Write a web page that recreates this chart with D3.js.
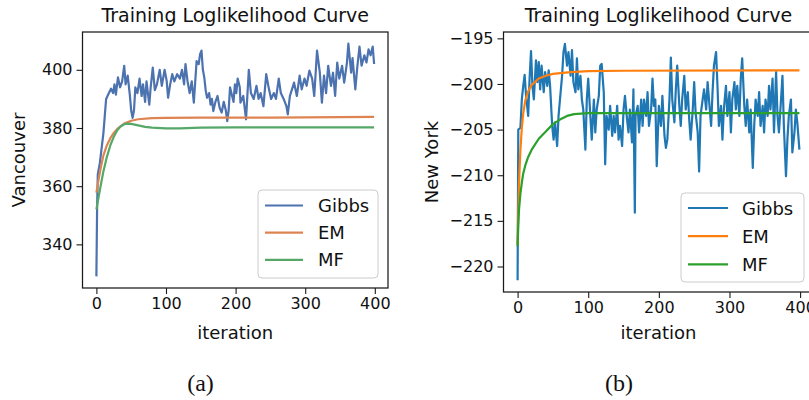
<!DOCTYPE html>
<html>
<head>
<meta charset="utf-8">
<script src="https://cdn.jsdelivr.net/npm/d3@7"></script>
<style>
  body { margin: 0; background: #fff; }
  svg text { font-family: "DejaVu Sans", sans-serif; fill: #111; }
</style>
</head>
<body>
<svg id="chart" width="809" height="400"></svg>
<script>

// ---- data ----
var seriesNames = ['Gibbs', 'EM', 'MF'];
var xTicks = [0, 100, 200, 300, 400];

// (a) Vancouver
var vanGibbsIter = [0,1,2,5,8,10,12,14,16,18,21,24,26,28,31,34,37,40,42,45,48,50,52,54,56,59,62,65,67,70,72,74,76,78,81,84,87,91,94,98,101,103,106,109,112,116,120,123,126,128,131,134,137,140,142,144,147,149,151,153,155,157,159,162,164,166,168,171,174,177,180,183,186,188,190,192,195,197,199,201,203,206,207,211,214,215,219,222,226,230,233,236,240,244,247,251,255,258,262,265,269,273,275,278,281,284,288,292,295,299,302,306,310,313,317,321,324,327,330,333,337,340,343,346,349,353,356,360,362,366,368,372,375,378,381,385,388,391,394,397,399];
var vanGibbs = [329,352,364,368,374,378,384,390,391,392,393.5,392,395,391.5,397.4,394,396,401.4,395,398,391.5,386,383.5,386,394,392,397,391,395,389,396,392,388,394,400.8,393,395,400,394.5,400,396.2,390.4,395,398.5,396,398.5,397,400,395,402,396,392,396,388.7,396,403,402,405.4,406.6,400,397.4,393,390.4,392,388,390,385.8,389,391,387,385.3,389,386,382.4,386,394,391,389,395,392,397,394,388.7,391,385,383,400,392,390,394.5,390,392,387.5,398.5,394.5,390,392,390,397,392,390,387.5,384.7,391,393.3,395.6,391,398,393.3,397,394.5,399.7,397,391,406.6,399,388.7,398,392,401.4,394.5,399,391,402.5,397,401.4,395.6,402.5,409,399,404,393.3,401.4,408,401.4,405,402.5,407,405,408,402];
var vanEMIter = [0,3,6,10,15,20,25,30,40,50,60,80,100,150,250,399];
var vanEM = [357.8,362,366,370.5,374,376.5,378.3,379.7,381.5,382.5,383,383.4,383.5,383.6,383.6,383.8];
var vanMFIter = [0,3,6,10,15,20,25,30,35,40,45,50,60,70,80,100,120,150,200,399];
var vanMF = [352,356,360,365,370,374,377,379.2,380.6,381.3,381.5,381.4,380.9,380.4,380.1,379.9,379.9,380.1,380.2,380.2];
var vanYTicks = [340, 360, 380, 400];

// (b) New York
var nyGibbsIter = [0,1,4,6,8,10,12,15,17,19,21,23,26,28,30,32,34,37,39,42,44,46,49,51,53,56,58,60,63,65,67,70,72,75,77,79,82,84,86,89,91,93,96,98,100,103,105,108,110,112,115,117,119,122,124,126,129,131,134,136,138,141,143,145,148,150,152,155,157,159,162,164,166,167,170,172,175,177,179,182,184,186,189,191,193,195,197,200,203,205,208,210,212,215,217,219,222,224,226,229,231,233,236,238,241,243,245,248,250,252,255,257,259,262,264,267,269,271,274,276,278,281,283,285,288,290,292,295,297,300,302,304,307,309,311,314,316,318,321,323,325,328,330,333,335,337,340,342,344,347,349,351,354,356,358,361,363,366,368,370,373,375,377,380,382,384,387,389,392,394,396,399];
var nyGibbs = [-221.5,-205,-204.8,-201.7,-200.2,-199,-201.3,-203.5,-199.4,-196.4,-200.2,-201.7,-197.4,-199.8,-197.6,-200.6,-198,-200.9,-198.7,-200.2,-198.5,-200.2,-204.6,-206.1,-204.2,-206.8,-203.5,-201.7,-199.1,-196.5,-195.6,-198,-196.5,-199.1,-196.3,-199.8,-200.9,-197.2,-200.6,-199.1,-201.7,-202.8,-207.2,-201.7,-199.4,-203.5,-206.1,-201.7,-205.3,-202.8,-201.3,-198,-197.8,-200.9,-208.8,-203.5,-205,-202.4,-205.7,-203.5,-205.3,-202.4,-206.1,-204.6,-206.8,-202.8,-201.3,-203.9,-205.3,-202.8,-206.4,-200.6,-214.1,-203.5,-202.4,-205.3,-201.7,-204.6,-201.7,-203.5,-200.9,-204.6,-202.8,-199.4,-202.4,-201.7,-209,-202.4,-204.6,-201.3,-205.7,-207,-206.1,-201.7,-197.1,-201.7,-204.2,-200.6,-198,-202.4,-204.6,-201.7,-199.1,-202.8,-200.9,-203.9,-206.1,-202.8,-199.8,-203.1,-205.3,-209.6,-203.5,-201.7,-200.6,-202.8,-199.8,-201.7,-204.6,-200.9,-198,-196.5,-200.2,-204.6,-202.4,-206.1,-202.8,-200.2,-203.5,-200.9,-205.3,-201.7,-199.8,-202.8,-200.2,-203.5,-199.4,-197.2,-202.4,-204.6,-201.7,-205.3,-202.8,-209.2,-204.6,-201.7,-203.5,-200.9,-204.6,-202.4,-205.3,-201.7,-203.5,-200.2,-202.8,-199.4,-205.3,-198.7,-203.5,-205.3,-201.7,-199.1,-204.6,-210.1,-206.1,-203.5,-201.7,-207.5,-205.3,-202.8,-204.2,-207.2];
var nyEMIter = [0,1,2,3,4,6,8,11,15,20,30,40,50,75,100,150,399];
var nyEM = [-217.5,-214,-211,-209,-207.2,-204.8,-203.2,-201.8,-200.8,-200.1,-199.4,-199.1,-198.9,-198.7,-198.6,-198.55,-198.5];
var nyMFIter = [0,1,2,4,6,8,11,15,20,25,30,40,50,60,70,80,100,399];
var nyMF = [-217.8,-215.5,-213.8,-212,-210.8,-209.8,-208.9,-208,-207.2,-206.6,-206,-205.2,-204.4,-203.9,-203.5,-203.3,-203.2,-203.2];
var nyYTicks = [-220, -215, -210, -205, -200, -195];

var svg = d3.select('#chart');
var ink = '#1a1a1a';

function pad(ext) {
	var m = (ext[1] - ext[0]) * 0.05;
	return [ext[0] - m, ext[1] + m];
}

function drawPanel(p) {
	var allX = [].concat.apply([], p.series.map(function (s) { return s.x; }));
	var allY = [].concat.apply([], p.series.map(function (s) { return s.y; }));
	var x = d3.scaleLinear().domain(pad(d3.extent(allX))).range([p.left, p.right]);
	var y = d3.scaleLinear().domain(pad(d3.extent(allY))).range([p.bottom, p.top]);
	var g = svg.append('g');

	// lines
	var line = d3.line()
		.x(function (d) { return x(d[0]); })
		.y(function (d) { return y(d[1]); });
	p.series.forEach(function (s, i) {
		g.append('path')
			.datum(d3.zip(s.x, s.y))
			.attr('d', line)
			.attr('fill', 'none')
			.attr('stroke', p.colors[i])
			.attr('stroke-width', 2.2)
			.attr('stroke-linejoin', 'round');
	});

	// spines
	g.append('rect')
		.attr('x', p.left).attr('y', p.top)
		.attr('width', p.right - p.left).attr('height', p.bottom - p.top)
		.attr('fill', 'none').attr('stroke', ink).attr('stroke-width', 1.25);

	// axes
	var xAxis = g.append('g')
		.attr('transform', 'translate(0,' + p.bottom + ')')
		.call(d3.axisBottom(x).tickValues(xTicks).tickSize(6).tickPadding(4).tickFormat(d3.format('d')));
	var yAxis = g.append('g')
		.attr('transform', 'translate(' + p.left + ',0)')
		.call(d3.axisLeft(y).tickValues(p.yTicks).tickSize(6).tickPadding(4).tickFormat(d3.format('d')));
	[xAxis, yAxis].forEach(function (a) {
		a.select('.domain').remove();
		a.selectAll('line').attr('stroke', ink).attr('stroke-width', 1.1);
		a.selectAll('text').attr('font-size', 16).attr('fill', ink)
			.style('font-family', '"DejaVu Sans", sans-serif');
	});

	var cx = (p.left + p.right) / 2;
	var cy = (p.top + p.bottom) / 2;
	g.append('text').attr('x', cx).attr('y', 22)
		.attr('text-anchor', 'middle').attr('font-size', 19)
		.text('Training Loglikelihood Curve');
	g.append('text').attr('x', cx).attr('y', 339)
		.attr('text-anchor', 'middle').attr('font-size', 18)
		.text('iteration');
	g.append('text')
		.attr('transform', 'translate(' + p.yLabelX + ',' + cy + ') rotate(-90)')
		.attr('text-anchor', 'middle').attr('font-size', 18)
		.text(p.yLabel);

	// caption
	g.append('text').attr('x', p.capX).attr('y', 391)
		.attr('text-anchor', 'middle').attr('font-size', 24)
		.style('font-family', '"Liberation Serif", serif')
		.text(p.caption);

	// legend
	var lg = p.legend;
	g.append('rect')
		.attr('x', lg.x).attr('y', lg.y).attr('width', lg.w).attr('height', lg.h)
		.attr('rx', 4).attr('fill', '#fff').attr('fill-opacity', 0.8)
		.attr('stroke', '#cccccc').attr('stroke-width', 1);
	seriesNames.forEach(function (name, i) {
		var ry = lg.y + lg.row0 + i * lg.step;
		g.append('line')
			.attr('x1', lg.x + 7).attr('x2', lg.x + 7 + lg.len)
			.attr('y1', ry).attr('y2', ry)
			.attr('stroke', p.colors[i]).attr('stroke-width', 2.2);
		g.append('text')
			.attr('x', lg.x + lg.textDx).attr('y', ry + 6.5)
			.attr('font-size', 18).text(name);
	});
}

drawPanel({
	left: 82.5, right: 388, top: 32, bottom: 288,
	series: [
		{ x: vanGibbsIter, y: vanGibbs },
		{ x: vanEMIter, y: vanEM },
		{ x: vanMFIter, y: vanMF }
	],
	colors: ['#4c72b0', '#dd8452', '#55a868'],
	yTicks: vanYTicks,
	yLabel: 'Vancouver', yLabelX: 25,
	caption: '(a)', capX: 200.5,
	legend: { x: 258, y: 190, w: 120, h: 88, row0: 15.5, step: 27.2, len: 38, textDx: 60 }
});

drawPanel({
	left: 503.5, right: 813.5, top: 32, bottom: 292,
	series: [
		{ x: nyGibbsIter, y: nyGibbs },
		{ x: nyEMIter, y: nyEM },
		{ x: nyMFIter, y: nyMF }
	],
	colors: ['#1f77b4', '#ff7f0e', '#2ca02c'],
	yTicks: nyYTicks,
	yLabel: 'New York', yLabelX: 438,
	caption: '(b)', capX: 619,
	legend: { x: 681, y: 193, w: 123, h: 89, row0: 15, step: 28.2, len: 40, textDx: 61 }
});
</script>
</body>
</html>
